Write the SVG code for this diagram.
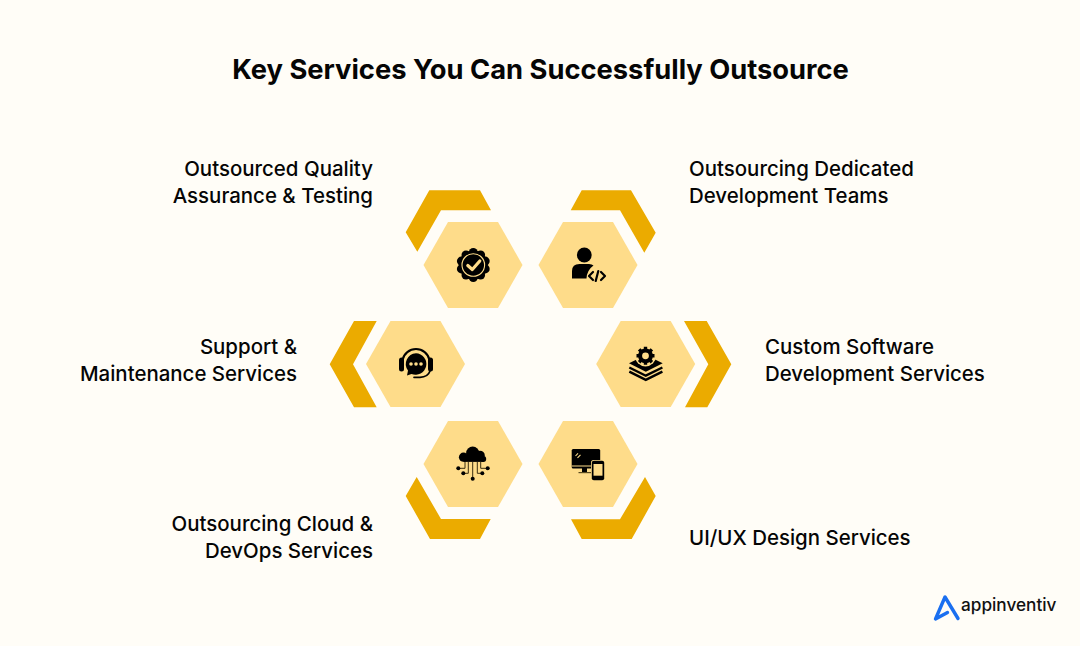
<svg xmlns="http://www.w3.org/2000/svg" width="1080" height="646" viewBox="0 0 1080 646">
<style>
text{font-family:"Inter","Liberation Sans",sans-serif;fill:#050505}
.t{font-size:27.3px;font-weight:700;text-anchor:middle}
.l{font-size:20.45px;font-weight:500}
.e{text-anchor:end}
.hex{fill:#FEDC8A}
.chev{fill:#EBAB00}
.ln{fill:none;stroke:#000;stroke-linecap:round;stroke-linejoin:round}
.bt{fill:none;stroke:#000;stroke-linejoin:miter}
.hx{fill:#FEDC8A}
</style>
<defs>
<polygon id="h" points="-49.5,0 -25,-43 25,-43 49.5,0 25,43 -25,43"/>
</defs>
<rect width="1080" height="646" fill="#FFFDF7"/>
<text class="t" x="540.5" y="79">Key Services You Can Successfully Outsource</text>

<g id="node-qa">
<polygon class="chev" points="429.3,190.3 480,190.3 491,210.3 441,210.3 417.3,251.7 405.7,232.3"/>
<use href="#h" class="hex" x="473" y="265"/>
<g transform="translate(473.3 265)">
<circle r="14.5"/>
<circle cx="0" cy="-12.5" r="4.5"/><circle cx="7.3" cy="-10.1" r="4.5"/><circle cx="11.9" cy="-3.9" r="4.5"/><circle cx="11.9" cy="3.9" r="4.5"/><circle cx="7.3" cy="10.1" r="4.5"/><circle cx="0" cy="12.5" r="4.5"/><circle cx="-7.3" cy="10.1" r="4.5"/><circle cx="-11.9" cy="3.9" r="4.5"/><circle cx="-11.9" cy="-3.9" r="4.5"/><circle cx="-7.3" cy="-10.1" r="4.5"/>
<circle r="11.3" fill="none" stroke="#FEDC8A" stroke-width="1.1"/>
<polyline points="-5.5,0.5 -1,4.5 6.5,-4" fill="none" stroke="#FEDC8A" stroke-width="3.2" stroke-linecap="round" stroke-linejoin="round"/>
</g>
<text class="l e" x="373" y="176">Outsourced Quality</text>
<text class="l e" x="373" y="203">Assurance &amp; Testing</text>
</g>

<g id="node-teams">
<polygon class="chev" points="581.7,190.3 631,190.3 655.7,232.7 644.3,252.7 620,210.3 570.7,210.3"/>
<use href="#h" class="hex" x="588" y="265"/>
<circle cx="584.3" cy="255" r="7.4"/>
<path d="M572 278.5V271Q572 264 579.5 264H589Q592 264 593.5 265.5Q587 270 586.5 278.5Z"/>
<path class="ln" stroke-width="2.2" d="M593 272L589 276L593 280M598.3 271L595.7 281M601 272L605 276L601 280"/>
<text class="l" x="689" y="176">Outsourcing Dedicated</text>
<text class="l" x="689" y="203">Development Teams</text>
</g>

<g id="node-support">
<polygon class="chev" points="354,321 376.7,321 353,364.3 376.7,407.3 354,407.3 329.7,364.3"/>
<use href="#h" class="hex" x="415.5" y="364"/>
<path class="ln" stroke-width="2" d="M402.5 360A13.8 13.8 0 0 1 429.5 360"/>
<rect x="399" y="357.5" width="5" height="14" rx="2.5"/>
<rect x="428" y="357.5" width="5" height="14" rx="2.5"/>
<path d="M416 353.2A10.8 10.8 0 1 1 411.5 374L407 375.5L408 370.5A10.8 10.8 0 0 1 416 353.2Z"/>
<circle cx="411" cy="364" r="1.8" class="hx"/><circle cx="416" cy="364" r="1.8" class="hx"/><circle cx="421" cy="364" r="1.8" class="hx"/>
<path class="ln" stroke-width="1.7" d="M430 371Q428 377 420 377.3H414"/>
<text class="l e" x="297" y="354">Support &amp;</text>
<text class="l e" x="297" y="381">Maintenance Services</text>
</g>

<g id="node-custom">
<polygon class="chev" points="684,321 706.7,321 731.3,364.3 707.3,407.3 685,407.3 708.3,364.3"/>
<use href="#h" class="hex" x="645.7" y="364"/>
<polygon points="629,363.3 645.8,355 662.7,363.3 645.8,371.7"/>
<path class="bt" stroke-width="2.4" d="M629.3 367.5L645.8 375.7L662.4 367.5M629.3 371.7L645.8 379.8L662.4 371.7"/>
<circle cx="645.5" cy="355.8" r="10.6" class="hx"/>
<circle cx="645.5" cy="355.8" r="5.4" fill="none" stroke="#000" stroke-width="4"/>
<path class="bt" stroke-width="3.4" d="M645.5 346.8V349.5M645.5 362V364.8M636.5 355.8H639.2M651.8 355.8H654.5M639.1 349.4L641 351.3M650 360.3L651.9 362.2M651.9 349.4L650 351.3M641 360.3L639.1 362.2"/>
<text class="l" x="765" y="354">Custom Software</text>
<text class="l" x="765" y="381">Development Services</text>
</g>

<g id="node-cloud">
<polygon class="chev" points="416.7,477 441,519 490.7,519 480,539 430,539 405.7,496"/>
<use href="#h" class="hex" x="473" y="464"/>
<circle cx="463.5" cy="457.2" r="4.6"/><circle cx="472.7" cy="453.2" r="6.6"/><circle cx="480" cy="455.5" r="4.8"/><circle cx="483.3" cy="459" r="2.9"/>
<rect x="463.5" y="456" width="20" height="5.9"/>
<path fill="none" stroke="#3a2e10" stroke-width="1" d="M465 462V468.3H458.3M468.3 462V473.3H463.3M472.7 462V478.7M477.3 462V473.3H482.3M480.7 462V468.3H487.7"/>
<circle cx="458.3" cy="468.3" r="2"/><circle cx="463.3" cy="473.3" r="2"/><circle cx="472.7" cy="478.7" r="2"/><circle cx="482.3" cy="473.3" r="2"/><circle cx="487.7" cy="468.3" r="2"/>
<text class="l e" x="373" y="531">Outsourcing Cloud &amp;</text>
<text class="l e" x="373" y="558">DevOps Services</text>
</g>

<g id="node-uiux">
<polygon class="chev" points="645,477 655.7,496 631.7,539 581.7,539 571,519.3 620,519.3"/>
<use href="#h" class="hex" x="588" y="464"/>
<rect x="571.7" y="449" width="28.5" height="19.5" rx="1.5"/>
<path stroke="#FEDC8A" stroke-width="1" fill="none" d="M571.7 466H592"/>
<path stroke="#FEDC8A" stroke-width="1.1" fill="none" d="M575.5 456L578 453.3M577.5 457.8L580.5 454.8"/>
<rect x="582" y="468" width="5" height="4"/>
<rect x="578.5" y="472" width="13" height="1.2" fill="#5a4a1e"/>
<rect x="591" y="460" width="14" height="21" rx="2.5" class="hx"/>
<rect x="591.8" y="460.8" width="12.4" height="19.4" rx="2"/>
<rect x="593.5" y="464" width="9" height="11.7" class="hx"/>
<text class="l" x="689" y="545">UI/UX Design Services</text>
</g>

<g id="logo">
<path fill="none" stroke="#1A6FF0" stroke-width="3.4" stroke-linejoin="round" stroke-linecap="round" d="M958 618.5L945 597L935.5 619L947.5 612.5"/>
<text x="961" y="610.5" style="font-size:17.2px;font-weight:500;fill:#111">appinventiv</text>
</g>
</svg>
